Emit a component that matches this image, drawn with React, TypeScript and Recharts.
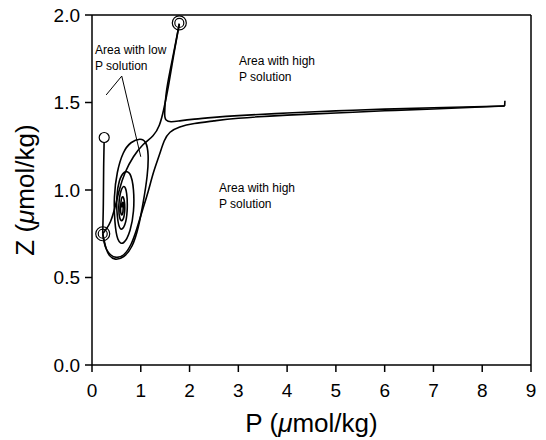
import { ComposedChart, Line, XAxis, YAxis, ReferenceLine, ReferenceDot } from 'recharts'

// tick labels
const xTicks = [0, 1, 2, 3, 4, 5, 6, 7, 8, 9]
const yTicks = [0, 0.5, 1.0, 1.5, 2.0]

// start point straight down to the lower steady state
const dropLine = [
  { p: 0.25, z: 1.3 },
  { p: 0.24, z: 1.15 },
  { p: 0.235, z: 1.0 },
  { p: 0.23, z: 0.88 },
  { p: 0.22, z: 0.75 },
]

// small tick at the far-right start
const startHook = [
  { p: 8.46, z: 1.48 },
  { p: 8.465, z: 1.51 },
]

// from the far right, turns up at the saddle to the high-P state
const rightToHigh = [
  { p: 8.46, z: 1.48 },
  { p: 7.0, z: 1.47 },
  { p: 6.0, z: 1.462 },
  { p: 5.0, z: 1.452 },
  { p: 4.0, z: 1.44 },
  { p: 3.0, z: 1.425 },
  { p: 2.5, z: 1.415 },
  { p: 2.1, z: 1.405 },
  { p: 1.8, z: 1.395 },
  { p: 1.62, z: 1.39 },
  { p: 1.52, z: 1.4 },
  { p: 1.49, z: 1.44 },
  { p: 1.52, z: 1.55 },
  { p: 1.6, z: 1.68 },
  { p: 1.7, z: 1.82 },
  { p: 1.79, z: 1.95 },
]

// from the far right, turns down at the saddle to the low-P state
const rightToLow = [
  { p: 8.46, z: 1.48 },
  { p: 7.0, z: 1.463 },
  { p: 6.0, z: 1.453 },
  { p: 5.0, z: 1.44 },
  { p: 4.0, z: 1.428 },
  { p: 3.0, z: 1.41 },
  { p: 2.5, z: 1.395 },
  { p: 2.1, z: 1.38 },
  { p: 1.8, z: 1.36 },
  { p: 1.6, z: 1.33 },
  { p: 1.48, z: 1.28 },
  { p: 1.38, z: 1.2 },
  { p: 1.26, z: 1.1 },
  { p: 1.15, z: 0.99 },
  { p: 1.03, z: 0.88 },
  { p: 0.92, z: 0.78 },
  { p: 0.8, z: 0.69 },
  { p: 0.65, z: 0.63 },
  { p: 0.5, z: 0.615 },
  { p: 0.38, z: 0.63 },
  { p: 0.3, z: 0.66 },
  { p: 0.25, z: 0.7 },
  { p: 0.22, z: 0.75 },
]

// from the high-P state down the left side to the low-P state
const highToLow = [
  { p: 1.79, z: 1.95 },
  { p: 1.68, z: 1.78 },
  { p: 1.57, z: 1.6 },
  { p: 1.47, z: 1.46 },
  { p: 1.38, z: 1.37 },
  { p: 1.25, z: 1.31 },
  { p: 1.05, z: 1.26 },
  { p: 0.85, z: 1.19 },
  { p: 0.68, z: 1.1 },
  { p: 0.56, z: 1.0 },
  { p: 0.47, z: 0.9 },
  { p: 0.38, z: 0.82 },
  { p: 0.3, z: 0.78 },
  { p: 0.22, z: 0.75 },
]

// outward spiral around the unstable focus
const spiral = [
  { p: 0.61, z: 0.9 },
  { p: 0.63, z: 0.93 },
  { p: 0.64, z: 0.9 },
  { p: 0.62, z: 0.86 },
  { p: 0.59, z: 0.87 },
  { p: 0.59, z: 0.92 },
  { p: 0.62, z: 0.96 },
  { p: 0.66, z: 0.94 },
  { p: 0.67, z: 0.88 },
  { p: 0.63, z: 0.83 },
  { p: 0.57, z: 0.84 },
  { p: 0.55, z: 0.91 },
  { p: 0.58, z: 0.98 },
  { p: 0.65, z: 1.02 },
  { p: 0.71, z: 0.98 },
  { p: 0.72, z: 0.88 },
  { p: 0.67, z: 0.8 },
  { p: 0.58, z: 0.78 },
  { p: 0.52, z: 0.85 },
  { p: 0.51, z: 0.96 },
  { p: 0.56, z: 1.05 },
  { p: 0.66, z: 1.1 },
  { p: 0.78, z: 1.09 },
  { p: 0.85, z: 1.0 },
  { p: 0.85, z: 0.88 },
  { p: 0.78, z: 0.77 },
  { p: 0.65, z: 0.7 },
  { p: 0.53, z: 0.72 },
  { p: 0.47, z: 0.82 },
  { p: 0.46, z: 0.96 },
  { p: 0.52, z: 1.1 },
  { p: 0.64, z: 1.21 },
  { p: 0.8, z: 1.27 },
  { p: 0.98, z: 1.29 },
  { p: 1.1, z: 1.27 },
  { p: 1.15, z: 1.2 },
  { p: 1.13, z: 1.08 },
  { p: 1.05, z: 0.93 },
  { p: 0.95, z: 0.79 },
  { p: 0.82, z: 0.68 },
  { p: 0.65, z: 0.62 },
  { p: 0.48, z: 0.605 },
  { p: 0.36, z: 0.625 },
  { p: 0.29, z: 0.665 },
  { p: 0.25, z: 0.71 },
  { p: 0.22, z: 0.75 },
]

// open circles: single = start point, double = steady states
const singleMarks = [{ p: 0.25, z: 1.3 }]
const doubleMarks = [
  { p: 1.79, z: 1.955 },
  { p: 0.22, z: 0.75 },
]

// pointer lines from the "low P" note
const pointerLines = [
  [{ x: 0.61, y: 1.651 }, { x: 0.29, y: 1.543 }],
  [{ x: 0.61, y: 1.651 }, { x: 1.0, y: 1.19 }],
]

const font = 'Liberation Sans, Arial, sans-serif'
const tickStyle = { fill: '#000', fontSize: 19, fontFamily: font }
const axisStroke = { stroke: '#000', strokeWidth: 1.5 }

const curves = [dropLine, rightToHigh, rightToLow, highToLow, spiral]

export default function App() {
  return (
    <div style={{ position: 'absolute', left: 0, top: 0, width: 546, height: 440, background: '#fff' }}>
      <ComposedChart width={546} height={440} margin={{ top: 15, right: 15, left: 0, bottom: 0 }}>
        <XAxis
          type="number"
          dataKey="p"
          domain={[0, 9]}
          ticks={xTicks}
          interval={0}
          height={75}
          tickSize={7}
          tickMargin={12}
          axisLine={axisStroke}
          tickLine={axisStroke}
          tick={tickStyle}
        />
        <YAxis
          type="number"
          dataKey="z"
          domain={[0, 2]}
          ticks={yTicks}
          interval={0}
          width={92}
          tickSize={7}
          tickMargin={5}
          tickFormatter={(v: number) => v.toFixed(1)}
          axisLine={axisStroke}
          tickLine={axisStroke}
          tick={tickStyle}
        />
        <ReferenceLine y={2} stroke="#000" strokeWidth={1.5} />
        <ReferenceLine x={9} stroke="#000" strokeWidth={1.5} />
        {pointerLines.map((seg, i) => (
          <ReferenceLine key={'ptr' + i} segment={seg} stroke="#000" strokeWidth={1} />
        ))}
        {curves.map((c, i) => (
          <Line
            key={'c' + i}
            data={c}
            dataKey="z"
            type="natural"
            stroke="#000"
            strokeWidth={1.6}
            dot={false}
            activeDot={false}
            isAnimationActive={false}
          />
        ))}
        <Line
          data={startHook}
          dataKey="z"
          type="linear"
          stroke="#000"
          strokeWidth={1.6}
          dot={false}
          activeDot={false}
          isAnimationActive={false}
        />
        {singleMarks.map((m, i) => (
          <ReferenceDot key={'s' + i} x={m.p} y={m.z} r={5} fill="#fff" stroke="#000" strokeWidth={1.2} />
        ))}
        {doubleMarks.map((m, i) => (
          <ReferenceDot key={'do' + i} x={m.p} y={m.z} r={7} fill="none" stroke="#000" strokeWidth={1.2} />
        ))}
        {doubleMarks.map((m, i) => (
          <ReferenceDot key={'di' + i} x={m.p} y={m.z} r={4.5} fill="none" stroke="#000" strokeWidth={1.2} />
        ))}
      </ComposedChart>
      <svg width={546} height={440} style={{ position: 'absolute', left: 0, top: 0, pointerEvents: 'none' }}>
        <g fontFamily={font} fill="#000">
          <text x={311.5} y={432} fontSize={26} textAnchor="middle">
            P (<tspan fontStyle="italic">μ</tspan>mol/kg)
          </text>
          <text x={34} y={190} fontSize={26} textAnchor="middle" transform="rotate(-90 34 190)">
            Z (<tspan fontStyle="italic">μ</tspan>mol/kg)
          </text>
          <g fontSize={12}>
            <text x={95} y={54}>Area with low</text>
            <text x={95} y={70}>P solution</text>
            <text x={239} y={65}>Area with high</text>
            <text x={239} y={81}>P solution</text>
            <text x={219} y={192}>Area with high</text>
            <text x={219} y={208}>P solution</text>
          </g>
        </g>
      </svg>
    </div>
  )
}
